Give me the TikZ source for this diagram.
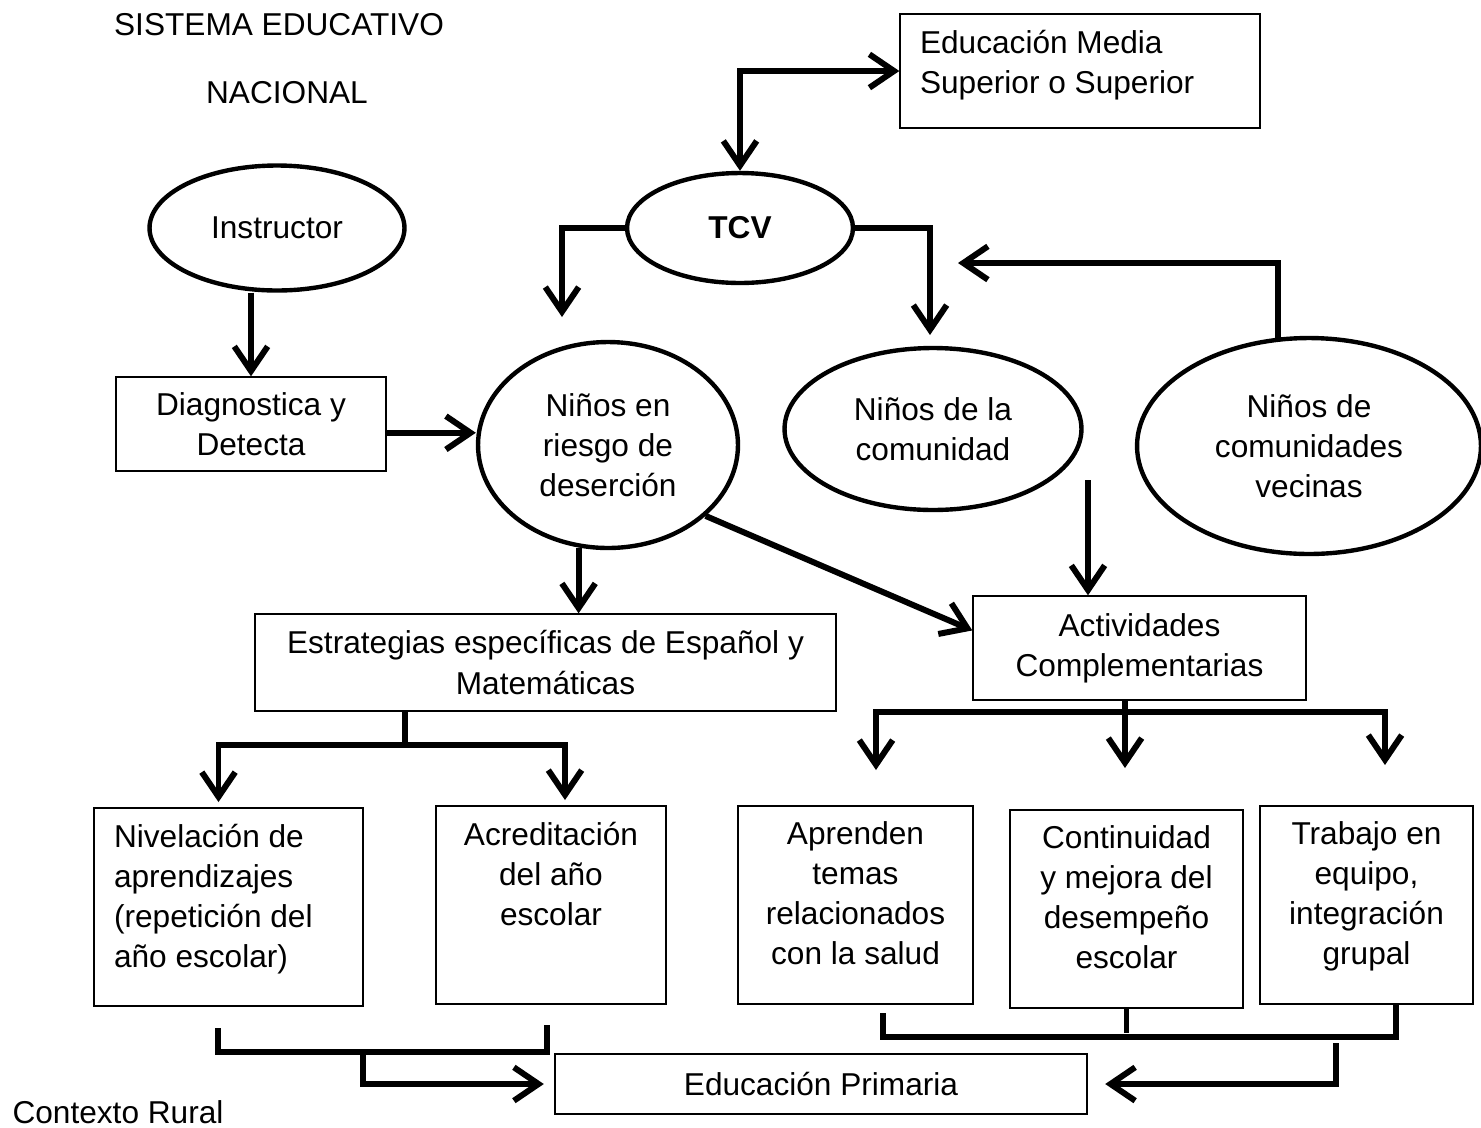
\documentclass[tikz,border=0pt]{standalone}
\usepackage{fontspec}
\setmainfont{Liberation Sans}
\usetikzlibrary{positioning, arrows.meta, shapes.geometric}
\tikzstyle{conn} = [line width=3.4pt, >={Straight Barb[length=14pt,width=19pt]}]
\tikzstyle{box} = [draw, line width=0.8pt, inner sep=0pt, align=center]
\tikzstyle{oval} = [draw, ellipse, line width=2.5pt, inner sep=0pt, align=center]
\newcommand{\toptext}[2]{\parbox[c][3.96cm][t]{#1}{\vspace*{9pt}\centering #2}}

\begin{document}
\begin{tikzpicture}[x=0.02cm, y=-0.02cm, every node/.style={font=\fontsize{18}{22.8}\selectfont}]
    \useasboundingbox (0,0) rectangle (1481,1127);

    % Titles
    \node (titulo) at (279,25) {SISTEMA EDUCATIVO};
    \node (nacional) at (287,93) {NACIONAL};
    \node (rural) at (118,1112) {Contexto Rural};

    % Top row
    \node[box, inner xsep=0.4cm] (media) at (1080,71) {\parbox[c][2.28cm][t]{6.4cm}{\vspace*{9pt}\raggedright Educación Media\\Superior o Superior}};
    \node[oval, minimum width=4.52cm, minimum height=2.2cm] (tcv) at (740,228) {\bfseries TCV};
    \node[oval, minimum width=5.1cm, minimum height=2.5cm] (instructor) at (277,228) {Instructor};

    % Middle row
    \node[box, minimum width=5.4cm, minimum height=1.88cm] (diag) at (251,424) {Diagnostica y\\Detecta};
    \node[oval, minimum width=5.2cm, minimum height=4.12cm] (riesgo) at (608,445) {Niños en\\riesgo de\\deserción};
    \node[oval, minimum width=5.94cm, minimum height=3.24cm] (comunidad) at (933,429) {Niños de la\\comunidad};
    \node[oval, minimum width=6.88cm, minimum height=4.32cm] (vecinas) at (1309,446) {Niños de\\comunidades\\vecinas};

    \node[box, minimum width=11.62cm, minimum height=1.94cm] (estrat) at (545.5,662.5) {Estrategias específicas de Español y\\Matemáticas};
    \node[box, minimum width=6.66cm, minimum height=2.08cm] (act) at (1139.5,648) {Actividades\\Complementarias};

    % Bottom row
    \node[box, inner xsep=0.4cm] (nivel) at (228.5,907) {\parbox[c][3.96cm][t]{4.58cm}{\vspace*{9pt}\raggedright Nivelación de\\aprendizajes\\(repetición del\\año escolar)}};
    \node[box] (acred) at (551,905) {\toptext{4.6cm}{Acreditación\\del año\\escolar}};
    \node[box] (aprenden) at (855.5,905) {\toptext{4.7cm}{Aprenden\\temas\\relacionados\\con la salud}};
    \node[box] (contin) at (1126.5,909) {\toptext{4.66cm}{Continuidad\\y mejora del\\desempeño\\escolar}};
    \node[box] (trabajo) at (1366.5,905) {\toptext{4.26cm}{Trabajo en\\equipo,\\integración\\grupal}};
    \node[box, minimum width=10.64cm, minimum height=1.2cm] (prim) at (821,1084) {Educación Primaria};

    % Free ends
    \coordinate (tcvL) at (562,317);
    \coordinate (tcvR) at (930,335);
    \coordinate (vecL) at (958,263);
    \coordinate (comS) at (1088,480);
    \coordinate (eSplit) at (405,745);
    \coordinate (aBar) at (1125,712);
    \coordinate (aTip1) at (876,770);
    \coordinate (aTip2) at (1125,768);
    \coordinate (aTip3) at (1385,765);
    \coordinate (bl1) at (218,1028);
    \coordinate (bl2) at (547,1025);
    \coordinate (blMid) at (363,1052);
    \coordinate (br1) at (883,1013);
    \coordinate (br2) at (1396,1005);
    \coordinate (brOut) at (1336,1043);

    % Connectors, top
    \draw[conn,<->] (tcv.north) |- (media.west);
    \draw[conn,->] (tcv.west) -| (tcvL);
    \draw[conn,->] (tcv.east) -| (tcvR);
    \draw[conn,->] (vecinas.106) |- (vecL);
    \draw[conn,->] (instructor.south -| diag.north) -- (diag.north);
    \draw[conn,->] ([yshift=-5pt]diag.east) -- ([yshift=-5pt]diag.east -| riesgo.west);

    % Connectors, middle
    \draw[conn,->] (riesgo.254) -- (riesgo.254 |- estrat.north);
    \draw[conn,->] (riesgo.-36) -- (act.174);
    \draw[conn,->] (comS) -- (comS |- act.north);

    % Estrategias split
    \draw[conn] (estrat.south -| eSplit) -- (eSplit);
    \draw[conn,->,shorten >=3pt] (eSplit) -| ([xshift=-0.2cm]nivel.north);
    \draw[conn,->,shorten >=3pt] (eSplit) -| ([xshift=0.28cm]acred.north);

    % Actividades split
    \draw[conn] (act.south -| aBar) -- (aBar);
    \draw[conn,->] (aBar) -| (aTip1);
    \draw[conn,->] (aBar) -- (aTip2);
    \draw[conn,->] (aBar) -| (aTip3);

    % Brackets to Educacion Primaria
    \draw[conn] (bl1) -- ++(0,24) -| (bl2);
    \draw[conn,->,shorten >=6pt] (blMid) |- (prim.west);
    \draw[conn] (br1) -- ++(0,24) -| (br2);
    \draw[conn] (contin.south) -- ++(0,24);
    \draw[conn,->,shorten >=10pt] (brOut) |- (prim.east);
\end{tikzpicture}
\end{document}
